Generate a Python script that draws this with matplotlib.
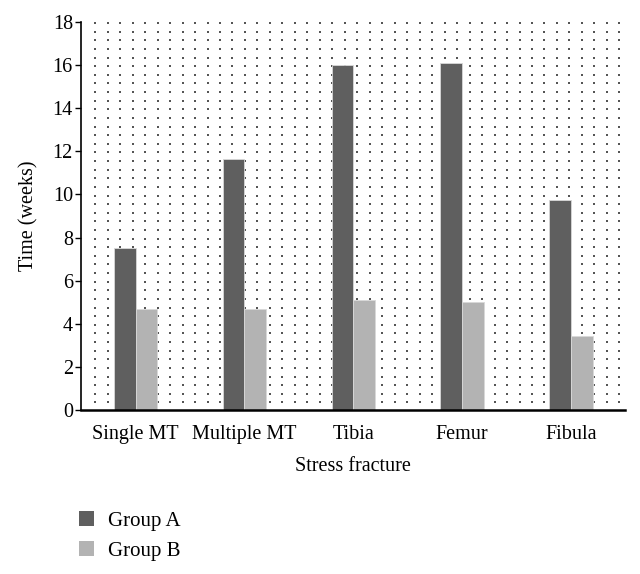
import numpy as np
import matplotlib
matplotlib.use("Agg")
import matplotlib.pyplot as plt
from matplotlib.patches import Patch

plt.rcParams['font.family'] = ['Liberation Serif', 'DejaVu Serif']
plt.rcParams['font.size'] = 14.5

categories = ['Single MT', 'Multiple MT', 'Tibia', 'Femur', 'Fibula']
group_a = [7.5, 11.65, 16.0, 16.1, 9.75]
group_b = [4.7, 4.7, 5.1, 5.0, 3.45]

fig = plt.figure(figsize=(6.4, 5.74), dpi=100)
ax = fig.add_axes([0.127, 0.2857, 0.85, 0.676])

x = np.arange(len(categories))
w = 0.2

# dotted background grid
gx = np.arange(-0.5 + 0.128, 4.5, 0.1147)
gy = np.arange(0.35, 18.01, 0.4)
GX, GY = np.meshgrid(gx, gy)
ax.scatter(GX.ravel(), GY.ravel(), s=1.2, color='#555555', marker='s',
           linewidths=0, zorder=0)

ax.bar(x - w / 2, group_a, w, color='#5f5f5f', edgecolor='#d8d8d8',
       linewidth=0.6, zorder=2, label='Group A')
ax.bar(x + w / 2, group_b, w, color='#b3b3b3', edgecolor='#d8d8d8',
       linewidth=0.6, zorder=2, label='Group B')

ax.set_xlim(-0.5, 4.5)
ax.set_ylim(0, 18)
ax.set_yticks(np.arange(0, 19, 2))
ax.set_xticks(x)
ax.set_xticklabels(categories)
ax.tick_params(axis='x', length=0, pad=11)
ax.tick_params(axis='y', length=4, width=1, direction='out', pad=2)
ax.spines['top'].set_visible(False)
ax.spines['right'].set_visible(False)
ax.spines['left'].set_linewidth(1.2)
ax.spines['bottom'].set_linewidth(1.8)
ax.set_xlabel('Stress fracture', labelpad=9)
ax.set_ylabel('Time (weeks)', labelpad=10)

handles = [Patch(facecolor='#5f5f5f', label='Group A'),
           Patch(facecolor='#b3b3b3', label='Group B')]
fig.legend(handles=handles, loc='upper left', bbox_to_anchor=(0.124, 0.11),
           frameon=False, fontsize=15, handlelength=0.72, handleheight=0.72,
           handletextpad=0.65, labelspacing=0.5, borderaxespad=0,
           borderpad=0)

fig.savefig('out.png', dpi=100, facecolor='white')
